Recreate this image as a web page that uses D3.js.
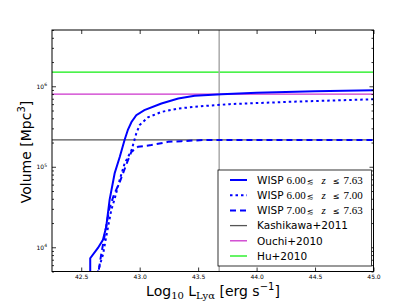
<!DOCTYPE html>
<html>
<head>
<meta charset="utf-8">
<script src="https://cdn.jsdelivr.net/npm/d3@7"></script>
<style>
  body { margin: 0; background: #fff; }
  text { font-family: "DejaVu Sans", sans-serif; }
</style>
</head>
<body>
<div id="chart"></div>
<script>
// WISP 6.00 <= z <= 7.63 (solid)
const lumAll = [42.577, 42.577, 42.643, 42.686, 42.714, 42.743, 42.786, 42.83, 42.87, 42.90, 42.93, 42.971, 43.04, 43.186, 43.33, 43.47, 43.70, 44.0, 44.5, 45.0];
const volAll = [3.0e3, 7.3e3, 9.8e3, 1.24e4, 1.8e4, 3.9e4, 8.3e4, 1.33e5, 2.14e5, 2.9e5, 3.6e5, 4.37e5, 5.05e5, 6.1e5, 7.05e5, 7.6e5, 7.95e5, 8.3e5, 8.7e5, 8.9e5];
// WISP 6.00 <= z <= 7.00 (dotted)
const lumLow = [42.63, 42.643, 42.686, 42.714, 42.757, 42.786, 42.828, 42.871, 42.93, 42.971, 43.0, 43.07, 43.186, 43.33, 43.557, 43.77, 44.27, 45.0];
const volLow = [3.0e3, 5.0e3, 8.1e3, 1.36e4, 2.9e4, 4.0e4, 6.8e4, 1.1e5, 1.6e5, 2.6e5, 3.3e5, 4.1e5, 4.8e5, 5.3e5, 5.7e5, 6.0e5, 6.4e5, 6.9e5];
// WISP 7.00 <= z <= 7.63 (dashed)
const lumHigh = [42.625, 42.67, 42.70, 42.74, 42.78, 42.83, 42.90, 42.929, 42.957, 42.986, 43.1, 43.243, 43.357, 43.557, 45.0];
const volHigh = [3.0e3, 8.0e3, 1.4e4, 3.0e4, 4.5e4, 6.5e4, 1.21e5, 1.53e5, 1.65e5, 1.77e5, 1.86e5, 2.04e5, 2.08e5, 2.15e5, 2.15e5];

// literature survey volumes
const refNames = ["Kashikawa+2011", "Ouchi+2010", "Hu+2010"];
const refVolumes = [2.16e5, 8.0e5, 1.5e6];

const vLineLum = 43.68;

const xTicks = [42.5, 43.0, 43.5, 44.0, 44.5, 45.0];
const xTickLabels = ["42.5", "43.0", "43.5", "44.0", "44.5", "45.0"];
const yTicks = [1e4, 1e5, 1e6];
const yTickExps = ["4", "5", "6"];

const width = 415, height = 302;
const axLeft = 52, axRight = 373.5, axTop = 30, axBottom = 271.5;

const svg = d3.select("#chart").append("svg")
    .attr("width", width)
    .attr("height", height);

const x = d3.scaleLinear().domain([42.25, 45.0]).range([axLeft, axRight]);
const y = d3.scaleLog().domain([5e3, 5e6]).range([axBottom, axTop]);

svg.append("clipPath").attr("id", "clip")
  .append("rect")
    .attr("x", axLeft).attr("y", axTop)
    .attr("width", axRight - axLeft).attr("height", axBottom - axTop);

const plot = svg.append("g").attr("clip-path", "url(#clip)");

// reference horizontal lines
const refColors = ["#555555", "#cc33cc", "#11ee11"];
plot.selectAll(".ref")
  .data(refVolumes)
  .enter().append("line")
    .attr("x1", axLeft).attr("x2", axRight)
    .attr("y1", d => y(d)).attr("y2", d => y(d))
    .attr("stroke", (d, i) => refColors[i])
    .attr("stroke-width", 1.3);

// vertical line
plot.append("line")
    .attr("x1", x(vLineLum)).attr("x2", x(vLineLum))
    .attr("y1", axTop).attr("y2", axBottom)
    .attr("stroke", "#aaaaaa")
    .attr("stroke-width", 1.5);

const line = d3.line()
    .x(d => x(d[0]))
    .y(d => y(d[1]));

const curves = [
  { lum: lumHigh, vol: volHigh, dash: "6,4" },
  { lum: lumLow, vol: volLow, dash: "2.5,3" },
  { lum: lumAll, vol: volAll, dash: null }
];
curves.forEach(c => {
  plot.append("path")
      .datum(d3.zip(c.lum, c.vol))
      .attr("d", line)
      .attr("fill", "none")
      .attr("stroke", "#0000ff")
      .attr("stroke-width", 2)
      .attr("stroke-dasharray", c.dash);
});

// axes - ticks pointing inward
const minorY = [];
[3, 4, 5, 6].forEach(e => {
  for (let m = 2; m <= 9; m++) {
    const v = m * Math.pow(10, e);
    if (v >= 5e3 && v <= 5e6) minorY.push(v);
  }
});

const xAxis = svg.append("g")
    .attr("transform", `translate(0,${axBottom})`)
    .call(d3.axisBottom(x).tickValues(xTicks).tickFormat((d, i) => xTickLabels[i])
      .tickSizeInner(-4).tickSizeOuter(0).tickPadding(3));
xAxis.selectAll("text").style("font-size", "6px").attr("fill", "#000");

svg.append("g")
    .attr("transform", `translate(0,${axTop})`)
    .call(d3.axisTop(x).tickValues(xTicks).tickFormat("")
      .tickSizeInner(-4).tickSizeOuter(0));

const yAxis = svg.append("g")
    .attr("transform", `translate(${axLeft},0)`)
    .call(d3.axisLeft(y).tickValues(yTicks).tickFormat("")
      .tickSizeInner(-4).tickSizeOuter(0).tickPadding(5));
yAxis.selectAll(".tick text").each(function (d, i) {
  const t = d3.select(this).attr("text-anchor", "end").style("font-size", "6px").attr("fill", "#000");
  t.append("tspan").text("10");
  t.append("tspan").attr("dy", "-0.5em").style("font-size", "4.5px").text(yTickExps[i]);
});

svg.append("g")
    .attr("transform", `translate(${axLeft},0)`)
    .call(d3.axisLeft(y).tickValues(minorY).tickFormat("").tickSizeInner(-2).tickSizeOuter(0));

svg.append("g")
    .attr("transform", `translate(${axRight},0)`)
    .call(d3.axisRight(y).tickValues(yTicks).tickFormat("").tickSizeInner(-4).tickSizeOuter(0));
svg.append("g")
    .attr("transform", `translate(${axRight},0)`)
    .call(d3.axisRight(y).tickValues(minorY).tickFormat("").tickSizeInner(-2).tickSizeOuter(0));

svg.selectAll(".domain").remove();
svg.selectAll(".tick line").attr("stroke", "#000").attr("stroke-width", 0.8);

// frame
svg.append("rect")
    .attr("x", axLeft).attr("y", axTop)
    .attr("width", axRight - axLeft).attr("height", axBottom - axTop)
    .attr("fill", "none")
    .attr("stroke", "#000")
    .attr("stroke-width", 1);

// axis labels
const xl = svg.append("text")
    .attr("x", 213).attr("y", 296)
    .attr("text-anchor", "middle")
    .style("font-size", "14px");
xl.append("tspan").text("Log");
xl.append("tspan").attr("dy", 3).style("font-size", "10px").style("font-family", "DejaVu Serif, serif").text("10");
xl.append("tspan").attr("dy", -3).text(" L");
xl.append("tspan").attr("dy", 3).style("font-size", "10px").style("font-family", "DejaVu Serif, serif").text("Ly\u03b1");
xl.append("tspan").attr("dy", -3).text(" [erg s");
xl.append("tspan").attr("dy", -6).style("font-size", "10px").text("\u22121");
xl.append("tspan").attr("dy", 6).text("]");

const yl = svg.append("text")
    .attr("transform", "translate(31,152) rotate(-90)")
    .attr("text-anchor", "middle")
    .style("font-size", "14px");
yl.append("tspan").text("Volume [Mpc");
yl.append("tspan").attr("dy", -6).style("font-size", "10px").text("3");
yl.append("tspan").attr("dy", 6).text("]");

// legend
const legend = svg.append("g");
legend.append("rect")
    .attr("x", 218).attr("y", 170)
    .attr("width", 153.5).attr("height", 96)
    .attr("fill", "#fff")
    .attr("stroke", "#000")
    .attr("stroke-width", 0.8);

const wispRanges = [["6.00", "7.63"], ["6.00", "7.00"], ["7.00", "7.63"]];
const legendItems = [
  { color: "#0000ff", dash: null, w: 2, wisp: wispRanges[0] },
  { color: "#0000ff", dash: "2.5,3", w: 2, wisp: wispRanges[1] },
  { color: "#0000ff", dash: "6,4", w: 2, wisp: wispRanges[2] },
  { color: refColors[0], dash: null, w: 1.3, name: refNames[0] },
  { color: refColors[1], dash: null, w: 1.3, name: refNames[1] },
  { color: refColors[2], dash: null, w: 1.3, name: refNames[2] }
];
const mathFont = "Liberation Serif, serif";
legendItems.forEach((it, i) => {
  const ly = 180 + i * 15.2;
  legend.append("line")
      .attr("x1", 230).attr("x2", 247)
      .attr("y1", ly).attr("y2", ly)
      .attr("stroke", it.color)
      .attr("stroke-width", it.w)
      .attr("stroke-dasharray", it.dash);
  const t = legend.append("text")
      .attr("x", 257).attr("y", ly + 3.7)
      .style("font-size", "10.5px");
  if (it.wisp) {
    t.append("tspan").text("WISP");
    t.append("tspan").attr("dx", 3).style("font-family", mathFont).style("font-size", "11px").text(it.wisp[0]);
    t.append("tspan").attr("dx", 1).style("font-family", "DejaVu Sans").style("font-size", "8px").text("\u2272");
    t.append("tspan").attr("dx", 8).style("font-family", mathFont).style("font-style", "italic").style("font-size", "11px").text("z");
    t.append("tspan").attr("dx", 7).style("font-family", "DejaVu Sans").style("font-size", "8px").text("\u2264");
    t.append("tspan").attr("dx", 4).style("font-family", mathFont).style("font-size", "11px").text(it.wisp[1]);
  } else {
    t.text(it.name);
  }
});
</script>
</body>
</html>
